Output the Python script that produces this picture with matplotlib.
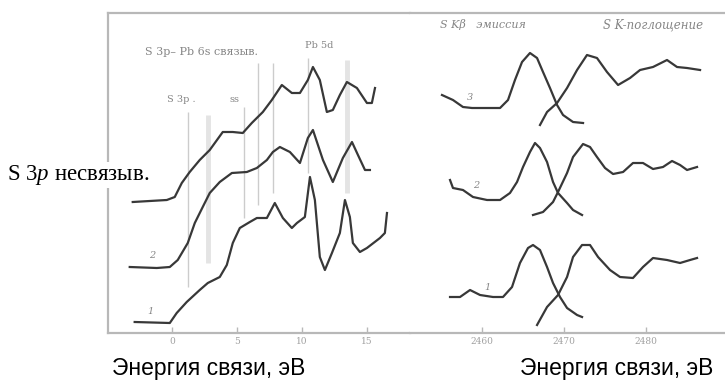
import matplotlib
matplotlib.use("Agg")
import matplotlib.pyplot as plt

plt.rcParams['mathtext.fontset'] = 'custom'
plt.rcParams['mathtext.rm'] = 'Liberation Serif'
plt.rcParams['mathtext.it'] = 'Liberation Serif:italic'

# ---- left panel: valence band spectra (binding energy, eV / intensity, a.u.)
val_e3 = [-3.0, -1.69, -0.38, 0.23, 0.77, 1.38, 2.15, 2.92, 3.92, 4.69, 5.46, 6.15, 7.0, 7.69,
          8.46, 9.23, 9.85, 10.46, 10.85, 11.38, 11.92, 12.38, 12.92, 13.46, 14.23, 15.0, 15.38, 15.62]
val_i3 = [131, 132, 133, 136, 150, 161, 173, 183, 201, 201, 200, 210, 221, 233,
          248, 240, 240, 253, 266, 253, 221, 223, 238, 251, 245, 230, 230, 245]

val_e2 = [-3.23, -1.15, -0.15, 0.46, 1.23, 1.77, 2.38, 2.92, 3.69, 4.62, 5.77, 6.54, 7.31,
          7.77, 8.31, 9.08, 9.85, 10.46, 10.85, 11.62, 12.38, 13.15, 13.85, 14.31, 14.85, 15.23]
val_i2 = [66, 65, 66, 73, 90, 110, 126, 140, 151, 160, 161, 165, 173,
          181, 186, 181, 170, 195, 203, 173, 151, 175, 191, 178, 163, 163]

val_e1 = [-2.85, -0.15, 0.38, 1.15, 2.15, 2.77, 3.69, 4.23, 4.69, 5.23, 6.0, 6.54, 7.31, 7.92,
          8.54, 9.23, 9.62, 10.23, 10.62, 11.0, 11.38, 11.77, 12.31, 12.92, 13.31, 13.69,
          13.92, 14.46, 15.0, 16.0, 16.38, 16.54]
val_i1 = [11, 10, 20, 31, 43, 50, 56, 68, 90, 105, 111, 115, 115, 130,
          115, 105, 110, 116, 156, 133, 76, 63, 80, 100, 133, 116,
          90, 81, 85, 95, 100, 120]

# marker lines: position, lower, upper, wide?
mark_e = [1.23, 2.77, 5.54, 6.62, 7.77, 10.46, 13.46]
mark_lo = [46, 70, 115, 128, 140, 160, 140]
mark_hi = [221, 218, 226, 270, 270, 275, 273]
mark_wide = [False, True, False, False, False, False, True]

# ---- right panel: S K-beta emission and S K absorption
em_e3 = [2455.12, 2456.46, 2457.68, 2458.78, 2460.61, 2462.20, 2463.17, 2464.02, 2464.88,
         2465.85, 2466.71, 2467.44, 2468.29, 2469.15, 2469.88, 2471.10, 2472.32]
em_i3 = [238, 233, 226, 225, 225, 225, 233, 253, 271, 280, 275, 261, 245, 228, 218, 211, 210]
ab_e3 = [2467.07, 2467.93, 2469.15, 2470.37, 2471.59, 2472.80, 2474.02, 2475.24, 2476.59,
         2478.05, 2479.27, 2480.85, 2482.56, 2483.78, 2485.0, 2486.59]
ab_i3 = [208, 221, 230, 245, 263, 278, 275, 261, 248, 255, 263, 266, 273, 266, 265, 263]

em_e2 = [2456.10, 2456.46, 2457.68, 2458.90, 2460.61, 2462.20, 2463.41, 2464.27, 2465.0,
         2465.85, 2466.46, 2467.07, 2467.93, 2468.66, 2469.27, 2470.37, 2471.10, 2472.20]
em_i2 = [153, 145, 143, 136, 133, 133, 140, 151, 166, 181, 190, 185, 171, 151, 140, 130, 123, 118]
ab_e2 = [2466.22, 2467.44, 2468.66, 2469.27, 2470.37, 2471.10, 2472.32, 2473.17, 2474.02, 2475.0,
         2475.98, 2477.20, 2478.41, 2479.63, 2480.85, 2482.07, 2483.17, 2484.15, 2485.0, 2486.22]
ab_i2 = [118, 121, 131, 141, 160, 176, 189, 186, 176, 165,
         159, 161, 170, 170, 164, 166, 172, 168, 163, 166]

em_e1 = [2456.10, 2457.32, 2458.54, 2459.76, 2461.34, 2462.56, 2463.66, 2464.63, 2465.61,
         2466.22, 2467.07, 2467.93, 2468.66, 2469.51, 2470.37, 2471.59, 2472.20]
em_i1 = [36, 36, 43, 38, 36, 36, 46, 70, 85, 88, 83, 66, 50, 36, 25, 18, 16]
ab_e1 = [2466.71, 2467.93, 2469.27, 2470.37, 2471.10, 2472.20, 2473.17, 2474.15, 2475.61,
         2476.83, 2478.41, 2479.63, 2480.85, 2482.56, 2484.15, 2485.37, 2486.22]
ab_i1 = [8, 26, 38, 56, 76, 88, 88, 76, 63, 56, 55, 66, 75, 73, 70, 73, 75]

left_ticks = [0, 5, 10, 15]
right_ticks = [2460, 2470, 2480]

line_c = '#383838'
frame_c = '#b8b8b8'
note_c = '#858585'

fig = plt.figure(figsize=(7.25, 3.8), dpi=100)
axl = fig.add_axes([108 / 725, 47 / 380, 302 / 725, 320 / 380])
axr = fig.add_axes([410 / 725, 47 / 380, 315 / 725, 320 / 380])

for ax in (axl, axr):
    ax.set_ylim(0, 320)
    ax.set_yticks([])
    for s in ax.spines.values():
        s.set_color(frame_c)
        s.set_linewidth(1.6)
    ax.spines['right'].set_visible(False)
    ax.tick_params(axis='x', direction='in', length=4, width=1, color=frame_c,
                   labelsize=6.5, labelcolor='#a0a0a0', pad=3)
axr.spines['left'].set_visible(False)

axl.set_xlim(-4.9, 18.31)
axr.set_xlim(2451.22, 2489.63)
axl.set_xticks(left_ticks)
axr.set_xticks(right_ticks)
for lab in axl.get_xticklabels() + axr.get_xticklabels():
    lab.set_family('DejaVu Serif')

for e, lo, hi, w in zip(mark_e, mark_lo, mark_hi, mark_wide):
    if w:
        axl.vlines(e, lo, hi, color='#e4e4e4', lw=3.5, zorder=1)
    else:
        axl.vlines(e, lo, hi, color='#cccccc', lw=1.0, zorder=1)

for e, i in [(val_e3, val_i3), (val_e2, val_i2), (val_e1, val_i1)]:
    axl.plot(e, i, color=line_c, lw=1.6, zorder=3)

for e, i in [(em_e3, em_i3), (ab_e3, ab_i3), (em_e2, em_i2), (ab_e2, ab_i2),
             (em_e1, em_i1), (ab_e1, ab_i1)]:
    axr.plot(e, i, color=line_c, lw=1.6, zorder=3)

# annotations
note = dict(color=note_c, family='DejaVu Serif', va='center', ha='left')
axl.text(-2.08, 281, 'S 3p\u2013 Pb 6s связыв.', fontsize=8, **note)
axl.text(10.23, 288, 'Pb 5d', fontsize=7, **note)
axl.text(-0.38, 233, 'S 3p .', fontsize=7, **note)
axl.text(4.46, 233, 'ss', fontsize=7, **note)
axl.text(-1.85, 21, '1', fontsize=7, style='italic', **note)
axl.text(-1.77, 78, '2', fontsize=7, style='italic', **note)

axr.text(2454.88, 308, 'S K\u03b2   эмиссия', fontsize=8, style='italic', **note)
axr.text(2474.76, 308, 'S K-поглощение', fontsize=8.5, style='italic', **note)
axr.text(2458.17, 235, '3', fontsize=7, style='italic', **note)
axr.text(2458.9, 148, '2', fontsize=7, style='italic', **note)
axr.text(2460.24, 45, '1', fontsize=7, style='italic', **note)

fig.text(7 / 725, 1 - 175 / 380, 'S 3$p$ несвязыв.', family='Liberation Serif',
         fontsize=16.5, ha='left', va='center',
         bbox=dict(facecolor='white', edgecolor='none', pad=1))
fig.text(112 / 725, 1 - 369 / 380, 'Энергия связи, эВ', family='Liberation Sans',
         fontsize=16.5, ha='left', va='center')
fig.text(520 / 725, 1 - 369 / 380, 'Энергия связи, эВ', family='Liberation Sans',
         fontsize=16.5, ha='left', va='center')

fig.savefig('out.png', dpi=100)
